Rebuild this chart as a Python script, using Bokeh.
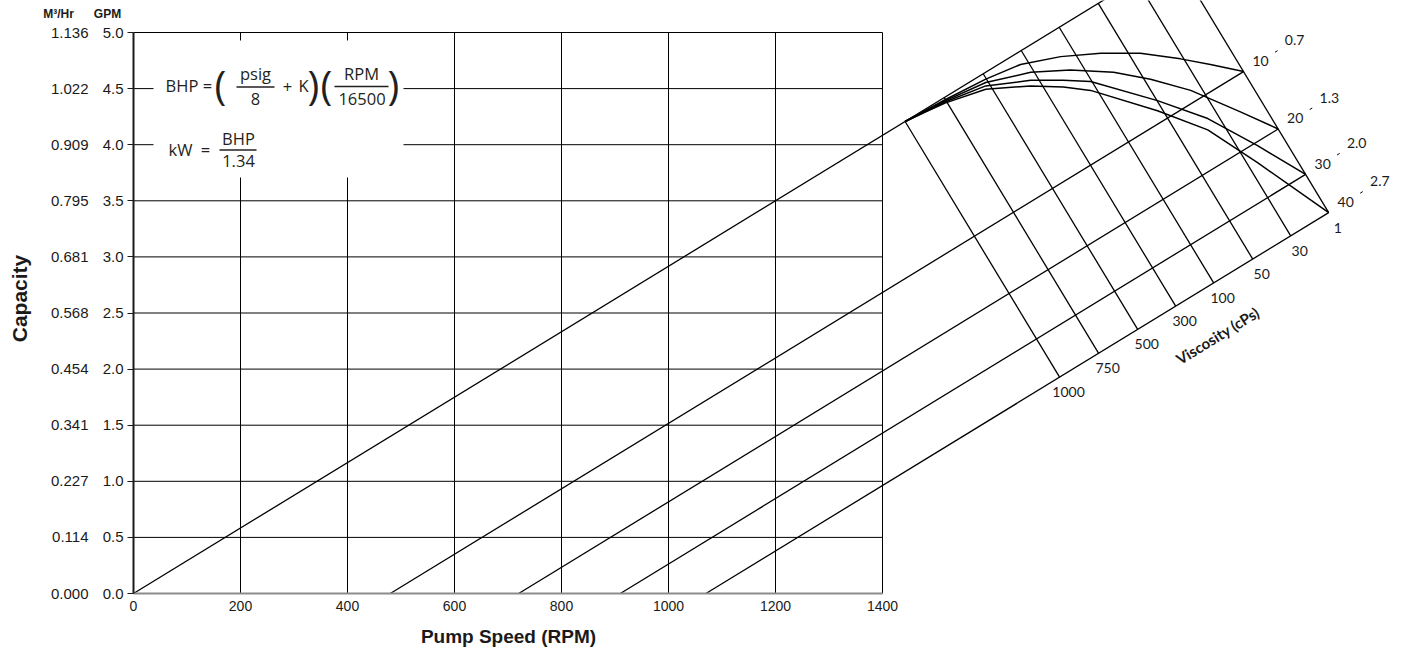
import math
from bokeh.plotting import figure
from bokeh.models import LinearAxis, FixedTicker, Range1d
from bokeh.core.properties import value
from bokeh.embed import file_html
from bokeh.resources import INLINE

# ---------------- data ----------------
rpm_ticks = [0, 200, 400, 600, 800, 1000, 1200, 1400]
gpm_ticks = [0.0, 0.5, 1.0, 1.5, 2.0, 2.5, 3.0, 3.5, 4.0, 4.5, 5.0]
gpm_labels = ["0.0", "0.5", "1.0", "1.5", "2.0", "2.5", "3.0", "3.5", "4.0", "4.5", "5.0"]
m3hr_labels = ["0.000", "0.114", "0.227", "0.341", "0.454", "0.568",
               "0.681", "0.795", "0.909", "1.022", "1.136"]

gpm_per_rpm = 3.5 / 1200.0              # theoretical capacity line slope
pressure_psi = ["0", "10", "20", "30", "40"]
pressure_bar = ["", "0.7", "1.3", "2.0", "2.7"]
slip_rpm = [0, 480, 720, 910, 1070]     # zero-flow speed for each pressure line

viscosity_cps = ["1000", "750", "500", "300", "100", "50", "30", "1"]
viscosity_rpm = [1731, 1804, 1877, 1948, 2019, 2092, 2163, 2234]  # foot of each viscosity line on 40 psi line
viscosity_tilt = -126.7                  # RPM change per GPM along a viscosity line

curve_psi = ["10", "20", "30", "40"]
curve_rpm = [
    [1480, 1518, 1593, 1658, 1733, 1808, 1882, 1957, 2013],
    [1480, 1518, 1593, 1677, 1751, 1832, 1901, 1976, 2069],
    [1480, 1518, 1593, 1677, 1738, 1789, 1914, 2008, 2101],
    [1480, 1518, 1593, 1677, 1738, 1789, 1914, 2008, 2101],
]
curve_gpm = [
    [4.305, 4.403, 4.584, 4.715, 4.785, 4.816, 4.816, 4.765, 4.715],
    [4.300, 4.393, 4.554, 4.645, 4.665, 4.645, 4.584, 4.484, 4.293],
    [4.295, 4.383, 4.524, 4.574, 4.574, 4.564, 4.393, 4.233, 3.991],
    [4.290, 4.373, 4.494, 4.524, 4.514, 4.484, 4.303, 4.132, 3.840],
]

# ---------------- layout ----------------
W, H = 1400, 648
PX_PER_RPM, PX_PER_GPM = 0.535, 112.2
X0, Y0 = 133, 593                      # pixel of the data origin


def to_data(sx, sy):
    return (sx - X0) / PX_PER_RPM, (Y0 - sy) / PX_PER_GPM


def offset(x, y, dx, dy):
    return x + dx / PX_PER_RPM, y - dy / PX_PER_GPM


k = gpm_per_rpm
T = viscosity_tilt


def meet(i, s):
    """Point where viscosity line i meets the pressure line with slip s."""
    rb = viscosity_rpm[i]
    qb = k * (rb - slip_rpm[-1])
    q = k * (rb - T * qb - s) / (1 - k * T)
    return q / k + s, q


p = figure(width=W, height=H, output_backend="svg", toolbar_location=None,
           x_range=Range1d(-X0 / PX_PER_RPM, (W - X0) / PX_PER_RPM),
           y_range=Range1d(-(H - Y0) / PX_PER_GPM, Y0 / PX_PER_GPM),
           min_border_left=0, min_border_right=0, min_border_top=0, min_border_bottom=0)
p.outline_line_color = None
p.xgrid.visible = False
p.ygrid.visible = False
p.background_fill_color = "white"
p.border_fill_color = "white"

INK = "#1a1a1a"

# grid
p.segment(x0=rpm_ticks[1:], y0=[0] * 7, x1=rpm_ticks[1:], y1=[gpm_ticks[-1]] * 7,
          line_color="black", line_width=1)
p.segment(x0=[0] * 10, y0=gpm_ticks[1:], x1=[rpm_ticks[-1]] * 10, y1=gpm_ticks[1:],
          line_color="black", line_width=1)

# white box behind the formulas
bx0, by0 = to_data(153, 177)
bx1, by1 = to_data(403, 40)
p.quad(left=[bx0], right=[bx1], bottom=[by0], top=[by1], fill_color="white", line_color=None)

# pressure (slip) lines
for s in slip_rpm:
    ex, ey = meet(len(viscosity_rpm) - 1, s)
    p.line([s, ex], [0, ey], line_color="black", line_width=1.3)

# viscosity lines
for i in range(len(viscosity_rpm)):
    bx, by = meet(i, slip_rpm[-1])
    tx, ty = meet(i, slip_rpm[0])
    p.line([bx, tx], [by, ty], line_color="black", line_width=1.3)

# pressure curves
cx, cy = meet(0, slip_rpm[0])
for j in range(len(curve_psi)):
    ex, ey = meet(len(viscosity_rpm) - 1, slip_rpm[j + 1])
    p.line([cx] + curve_rpm[j] + [ex], [cy] + curve_gpm[j] + [ey],
           line_color="black", line_width=1.5, line_join="round")

NOMO_FONT = value("Lato")
ux, uy = 0.852, -0.524
# pressure labels
lx, ly, lt = [], [], []
mx0, my0, mx1, my1 = [], [], [], []
for j in range(1, len(slip_rpm)):
    ex, ey = meet(len(viscosity_rpm) - 1, slip_rpm[j])
    a = offset(ex, ey, 20 * ux, 20 * uy)
    b = offset(ex, ey, 60 * ux, 60 * uy)
    lx += [a[0], b[0]]
    ly += [a[1], b[1]]
    lt += [pressure_psi[j], pressure_bar[j]]
    m0 = offset(ex, ey, 37 * ux, 37 * uy)
    m1 = offset(ex, ey, 40 * ux, 40 * uy)
    mx0.append(m0[0]); my0.append(m0[1]); mx1.append(m1[0]); my1.append(m1[1])
p.text(x=lx, y=ly, text=lt, text_font=NOMO_FONT, text_font_size="14px",
       text_align="center", text_baseline="middle", text_color=INK)
p.segment(x0=mx0, y0=my0, x1=mx1, y1=my1, line_color="black", line_width=1)

# viscosity labels
vx, vy = [], []
for i in range(len(viscosity_rpm)):
    bx, by = meet(i, slip_rpm[-1])
    a = offset(bx, by, 9, 15)
    vx.append(a[0]); vy.append(a[1])
p.text(x=vx, y=vy, text=viscosity_cps, text_font=NOMO_FONT, text_font_size="14px",
       text_align="center", text_baseline="middle", text_color=INK)
tx, ty = to_data(1217, 335)
p.text(x=[tx], y=[ty], text=["Viscosity (cPs)"], angle=math.radians(31.6),
       text_font=NOMO_FONT, text_font_size="15px", text_font_style="bold",
       text_align="center", text_baseline="middle", text_color=INK)

# formulas
F = value("Open Sans")
FS = 16.5
PS = 40
formula = [
    ("BHP", 181.5, 85, FS), ("=", 207, 85, FS), ("(", 220, 84, PS),
    ("psig", 255, 73, FS), ("8", 255, 98.5, FS), ("+", 287, 86, FS),
    ("K", 303, 85, FS), (")", 313, 84, PS), ("(", 326, 84, PS),
    ("RPM", 361, 72.5, FS), ("16500", 361.5, 98.5, FS), (")", 393, 84, PS),
    ("kW", 180, 149, FS), ("=", 205, 149, FS), ("BHP", 238, 137.5, FS),
    ("1.34", 238, 160.5, FS),
]
for t, sx, sy, fs in formula:
    x, y = to_data(sx, sy)
    p.text(x=[x], y=[y], text=[t], text_font=F, text_font_size=f"{fs}px",
           text_align="center", text_baseline="middle", text_color="#231f20")
for x0s, x1s, ys in [(236, 274, 86.5), (334, 388, 86), (219, 256, 149.5)]:
    a = to_data(x0s, ys)
    b = to_data(x1s, ys)
    p.segment(x0=[a[0]], y0=[a[1]], x1=[b[0]], y1=[b[1]], line_color="#231f20", line_width=1.3)

# axes (fixed in the data space so that the frame covers the whole canvas)
ax = p.xaxis[0]
ax.fixed_location = 0
ax.bounds = (0, rpm_ticks[-1])
ax.ticker = FixedTicker(ticks=rpm_ticks)
ax.axis_line_color = "#8c8c8c"
ax.axis_line_width = 2
ax.major_tick_out = 0
ax.major_tick_in = 0
ax.minor_tick_out = 0
ax.minor_tick_in = 0
ax.major_label_text_font = "Liberation Sans"
ax.major_label_text_font_size = "14px"
ax.major_label_text_color = INK
ax.major_label_standoff = 7

ay = p.yaxis[0]
ay.fixed_location = 0
ay.bounds = (0, gpm_ticks[-1])
ay.ticker = FixedTicker(ticks=gpm_ticks)
ay.major_label_overrides = {t: l for t, l in zip(gpm_ticks, gpm_labels)}
ay.axis_line_color = INK
ay.axis_line_width = 2
ay.major_tick_out = 6
ay.major_tick_in = 0
ay.minor_tick_out = 0
ay.minor_tick_in = 0
ay.major_tick_line_color = INK
ay.major_label_text_font = "Liberation Sans"
ay.major_label_text_font_size = "15px"
ay.major_label_text_color = INK
ay.major_label_standoff = 4

ay2 = LinearAxis(bounds=(0, gpm_ticks[-1]), ticker=FixedTicker(ticks=gpm_ticks),
                 fixed_location=to_data(92, 0)[0])
ay2.major_label_overrides = {t: l for t, l in zip(gpm_ticks, m3hr_labels)}
ay2.axis_line_color = None
ay2.major_tick_out = 0
ay2.major_tick_in = 0
ay2.minor_tick_out = 0
ay2.minor_tick_in = 0
ay2.major_label_text_font = "Liberation Sans"
ay2.major_label_text_font_size = "15px"
ay2.major_label_text_color = INK
ay2.major_label_standoff = 4
p.add_layout(ay2, "left")

# header and axis titles
AF = value("Liberation Sans")
for t, sx, sy, fs, ang in [("M³/Hr", 58, 13, 12, 0.0), ("GPM", 107, 13, 12, 0.0),
                           ("Capacity", 19, 298, 21, math.pi / 2),
                           ("Pump Speed (RPM)", 508, 636, 19, 0.0)]:
    x, y = to_data(sx, sy)
    p.text(x=[x], y=[y], text=[t], angle=ang, text_font=AF, text_font_style="bold",
           text_font_size=f"{fs}px", text_align="center", text_baseline="middle", text_color=INK)

open("out.html", "w").write(file_html(p, INLINE))
